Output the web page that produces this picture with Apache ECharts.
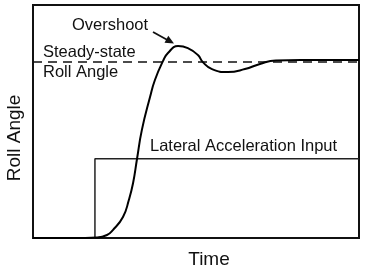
<!DOCTYPE html>
<html><head><meta charset="utf-8">
<script src="https://cdn.jsdelivr.net/npm/echarts@6/dist/echarts.min.js"></script>
<style>html,body{margin:0;padding:0;background:#fff}#c{width:366px;height:270px}</style>
</head><body><div id="c"></div>
<script>
// Roll angle response (time in % of window, roll angle in % of axis height)
const timeVals = [0, 16, 19.6, 22.7, 24.5, 27.6, 29.4, 30.7, 31.9, 33.4, 35.9, 37.4, 39.9, 41.4, 44.5, 47.5, 50.6, 52.1, 54.9, 59.8, 65.0, 69.6, 74.5, 82, 100];
const rollVals = [0, 0, 0.2, 1.3, 3.4, 9.0, 16.3, 23.6, 33.9, 46.4, 60.5, 67.8, 76.0, 79.4, 82.4, 81.5, 78.5, 75.5, 72.5, 71.2, 72.5, 74.7, 76.2, 76.4, 76.4];
// Lateral acceleration step input
const stepTime = [0, 19, 19, 100];
const stepVals = [0, 0, 34, 34];
// Steady-state reference
const steadyTime = [0, 100];
const steadyVals = [75.5, 75.5];

const zip = (a, b) => a.map((v, i) => [v, b[i]]);
const FONT = '"Liberation Sans", Arial, sans-serif';
const chart = echarts.init(document.getElementById('c'), null, {renderer: 'canvas'});
const txt = (s, x, y, size) => ({type: 'text', x: x, y: y, style: {text: s, font: size + 'px ' + FONT, fill: '#111', align: 'left', verticalAlign: 'middle'}});
chart.setOption({
  animation: false,
  backgroundColor: '#fff',
  grid: {left: 33, top: 5, right: 7, bottom: 32, show: true, borderColor: '#111', borderWidth: 2},
  xAxis: {type: 'value', min: 0, max: 100, axisLine: {show: false}, axisTick: {show: false}, axisLabel: {show: false}, splitLine: {show: false}},
  yAxis: {type: 'value', min: 0, max: 100, axisLine: {show: false}, axisTick: {show: false}, axisLabel: {show: false}, splitLine: {show: false}},
  series: [
    {type: 'line', data: zip(steadyTime, steadyVals), symbol: 'none', lineStyle: {color: '#111', width: 1.5, type: [9, 6]}, z: 1},
    {type: 'line', data: zip(stepTime, stepVals), symbol: 'none', lineStyle: {color: '#222', width: 1.5}, z: 2},
    {type: 'line', data: zip(timeVals, rollVals), symbol: 'none', smooth: 0.5, lineStyle: {color: '#000', width: 2}, z: 3}
  ],
  graphic: [
    txt('Overshoot', 72, 25, 16.5),
    {type: 'line', shape: {x1: 153, y1: 32, x2: 167, y2: 39.7}, style: {stroke: '#111', lineWidth: 1.8}},
    {type: 'polygon', shape: {points: [[174, 43.5], [164.5, 42.8], [168.3, 35.8]]}, style: {fill: '#111'}},
    txt('Steady-state', 43, 52, 16.5),
    txt('Roll Angle', 43, 72, 16.5),
    txt('Lateral Acceleration Input', 150, 146, 16.5),
    {type: 'text', x: 209, y: 260, style: {text: 'Time', font: '19px ' + FONT, fill: '#111', align: 'center', verticalAlign: 'middle'}},
    {type: 'text', x: 15, y: 138, rotation: Math.PI / 2, style: {text: 'Roll Angle', font: '19px ' + FONT, fill: '#111', align: 'center', verticalAlign: 'middle'}}
  ]
});
</script></body></html>
